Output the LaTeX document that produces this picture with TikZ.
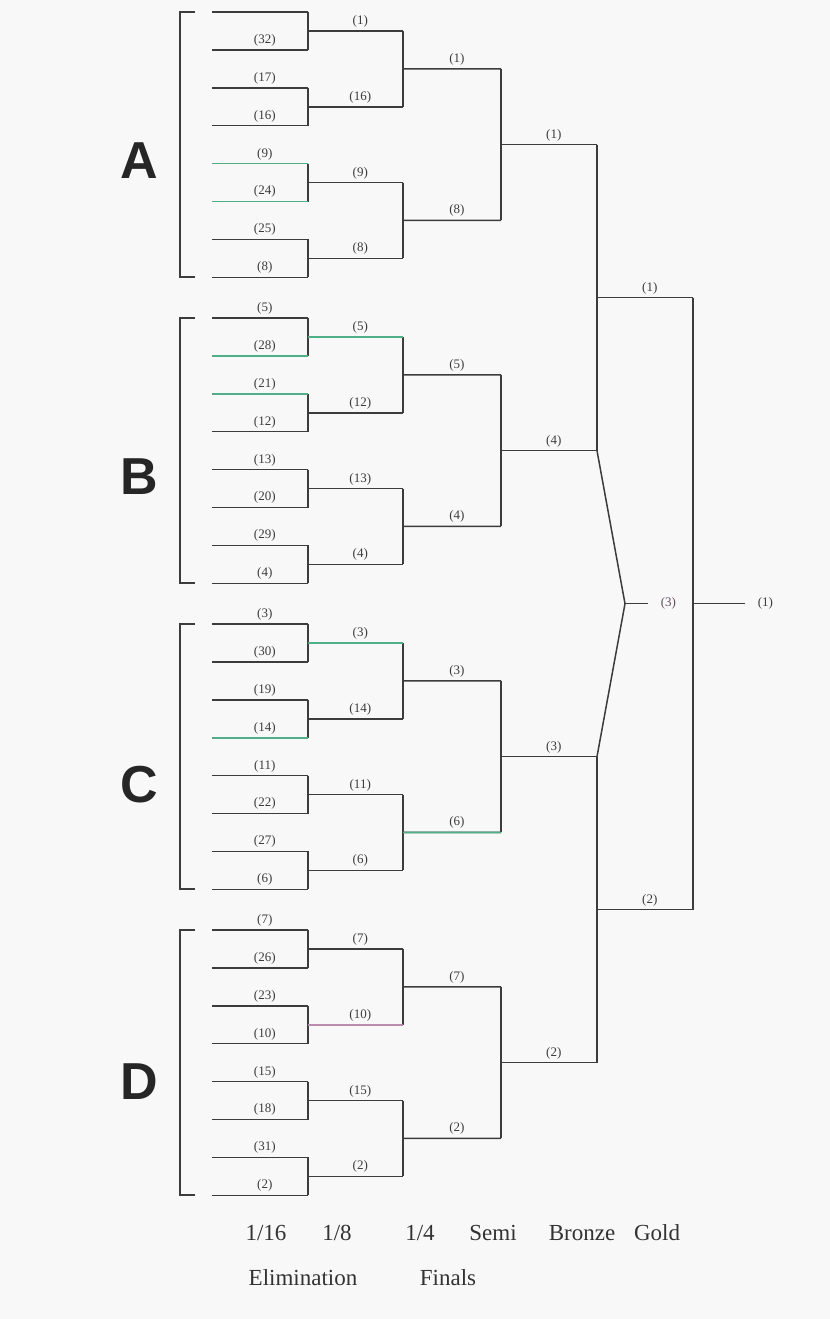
\documentclass[tikz,border=0pt]{standalone}
\usepackage{fontspec}
\setmainfont{Liberation Serif}
\newfontfamily\grpfont{Liberation Sans}
\usepackage{xcolor}
\usetikzlibrary{positioning, calc}
\definecolor{ink}{RGB}{60,60,60}
\definecolor{paper}{RGB}{248,248,248}
\definecolor{scangreen}{RGB}{80,175,135}
\definecolor{scanpink}{RGB}{185,140,175}
\tikzset{
    seed/.style={font=\fontsize{6.5}{6.5}\selectfont, inner sep=1.5pt, above, pos=0.55, text=ink},
    hl/.style={draw=scangreen, line width=0.8pt},
    grp/.style={font=\grpfont\bfseries\fontsize{26}{26}\selectfont, text=black!85},
    roundlab/.style={font=\fontsize{11.5}{12}\selectfont, text=black!80}
}

\begin{document}
\begin{tikzpicture}[x=0.5pt, y=-0.5pt, line width=0.75pt, draw=ink]
    \fill[paper] (0,0) rectangle (830,1319);
    \useasboundingbox (0,0) rectangle (830,1319);

    % four groups of eight, 1/16 -> semi
    \foreach \g/\ly/\first/\second/\third/\fourth [count=\n from 0] in {
        A/161/{0,32,17,16,9,24,25,8}/{1,16,9,8}/{1,8}/1,
        B/477/{5,28,21,12,13,20,29,4}/{5,12,13,4}/{5,4}/4,
        C/785/{3,30,19,14,11,22,27,6}/{3,14,11,6}/{3,6}/3,
        D/1082/{7,26,23,10,15,18,31,2}/{7,10,15,2}/{7,2}/2}{
        \pgfmathsetmacro\base{12+306*\n}
        \node[grp] (\g-name) at (139,\ly) {\g};
        \coordinate (\g-top) at (180,\base);
        \coordinate (\g-bot) at (180,{\base+265});
        \draw (\g-top) ++(15,0) -- (\g-top) -- (\g-bot) -- ++(15,0);
        \foreach \s [count=\i from 0] in \first {
            \coordinate (\g-a\i) at (212,{\base+37.9*\i});
            \coordinate (\g-b\i) at (308,{\base+37.9*\i});
            \draw (\g-a\i) -- node[seed] {\ifnum\s>0 (\s)\fi} (\g-b\i);
        }
        \foreach \s [count=\i from 0] in \second {
            \pgfmathtruncatemacro\u{2*\i}
            \pgfmathtruncatemacro\v{2*\i+1}
            \draw (\g-b\u) -- (\g-b\v);
            \coordinate (\g-c\i) at ($(\g-b\u)!0.5!(\g-b\v)$);
            \coordinate (\g-d\i) at (403,{\base+37.9*(2*\i+0.5)});
            \draw (\g-c\i) -- node[seed] {(\s)} (\g-d\i);
        }
        \foreach \s [count=\i from 0] in \third {
            \pgfmathtruncatemacro\u{2*\i}
            \pgfmathtruncatemacro\v{2*\i+1}
            \draw (\g-d\u) -- (\g-d\v);
            \coordinate (\g-e\i) at ($(\g-d\u)!0.5!(\g-d\v)$);
            \coordinate (\g-f\i) at (501,{\base+37.9*(4*\i+1.5)});
            \draw (\g-e\i) -- node[seed] {(\s)} (\g-f\i);
        }
        \draw (\g-f0) -- (\g-f1);
        \coordinate (\g-h) at ($(\g-f0)!0.5!(\g-f1)$);
        \coordinate (\g-k) at (597,{\base+37.9*3.5});
        \draw (\g-h) -- node[seed] {(\fourth)} (\g-k);
    }

    % scan tints
    \draw[hl] (A-a4) -- (A-b4);
    \draw[hl] (A-a5) -- (A-b5);
    \draw[hl] (B-a1) -- (B-b1);
    \draw[hl] (B-a2) -- (B-b2);
    \draw[hl] (B-c0) -- (B-d0);
    \draw[hl] (C-a3) -- (C-b3);
    \draw[hl] (C-c0) -- (C-d0);
    \draw[hl] (C-e1) -- (C-f1);
    \draw[hl, draw=scanpink] (D-c1) -- (D-d1);

    % finals
    \draw (A-k) -- (B-k);
    \draw (C-k) -- (D-k);
    \coordinate (fin-a) at ($(A-k)!0.5!(B-k)$);
    \coordinate (fin-b) at ($(C-k)!0.5!(D-k)$);
    \coordinate (fin-ae) at ($(fin-a)+(96,0)$);
    \coordinate (fin-be) at ($(fin-b)+(96,0)$);
    \draw (fin-a) -- node[seed] {(1)} (fin-ae);
    \draw (fin-b) -- node[seed] {(2)} (fin-be);
    \draw (fin-ae) -- (fin-be);

    % gold
    \coordinate (gold-s) at ($(fin-ae)!0.5!(fin-be)$);
    \coordinate (gold-e) at ($(gold-s)+(52,0)$);
    \draw (gold-s) -- (gold-e);
    \node[font=\fontsize{6.5}{6.5}\selectfont, text=ink, anchor=west, inner sep=6pt] (gold-lab) at (gold-e) {(1)};

    % bronze
    \coordinate (br) at (625,{12+306*1.5+37.9*3.5});
    \coordinate (br-e) at ($(br)+(23,0)$);
    \draw (B-k) -- (br) -- (C-k);
    \draw (br) -- (br-e);
    \node[font=\fontsize{6.5}{6.5}\selectfont, text=scanpink!55!black, anchor=west, inner sep=6pt] (br-lab) at (br-e) {(3)};

    % round names
    \node[roundlab] (t16) at (266,1233) {1/16};
    \node[roundlab] (t8) at (337,1233) {1/8};
    \node[roundlab] (t4) at (420,1233) {1/4};
    \node[roundlab] (tsemi) at (493,1233) {Semi};
    \node[roundlab] (tbronze) at (582,1233) {Bronze};
    \node[roundlab] (tgold) at (657,1233) {Gold};
    \node[roundlab] (telim) at (303,1278) {Elimination};
    \node[roundlab] (tfinals) at (448,1278) {Finals};
\end{tikzpicture}
\end{document}
